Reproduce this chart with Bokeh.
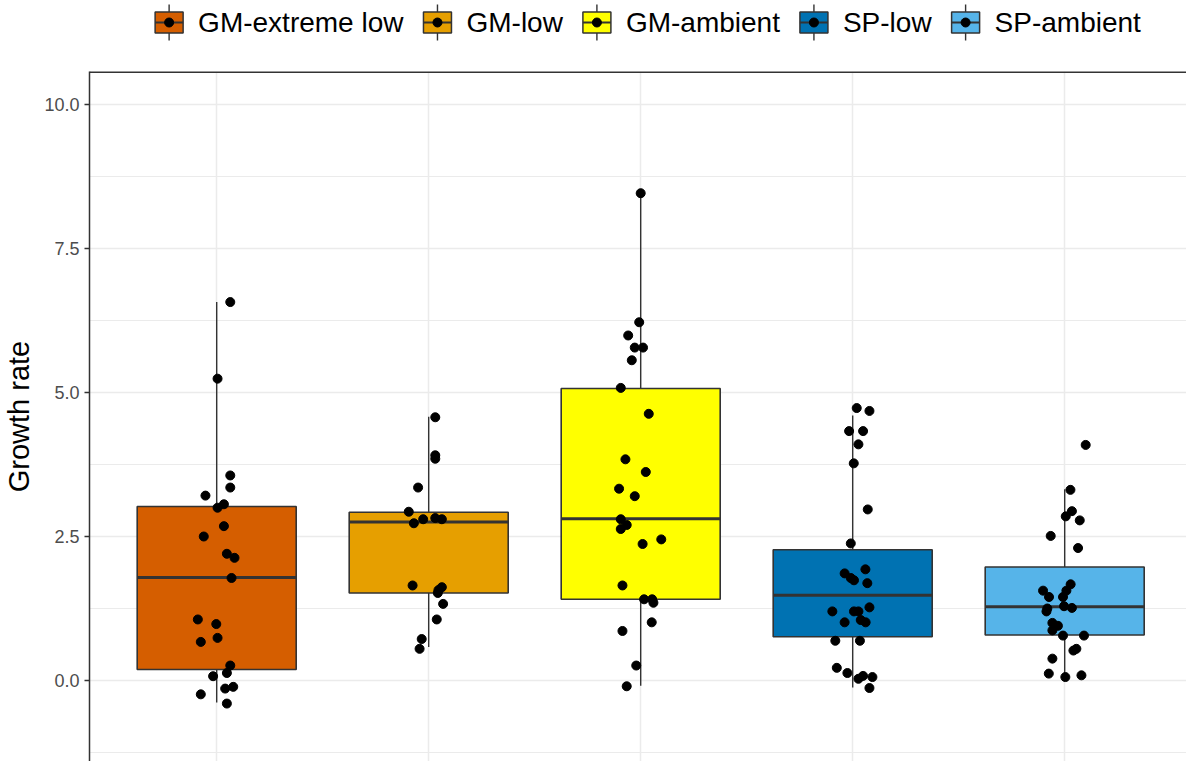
from bokeh.plotting import figure
from bokeh.layouts import column
from bokeh.models import (ColumnDataSource, FixedTicker, PrintfTickFormatter, Range1d, Span, Grid)
from bokeh.core.properties import value
from bokeh.embed import file_html
from bokeh.resources import INLINE

# ---------------- data ----------------
groups = ["GM-extreme low", "GM-low", "GM-ambient", "SP-low", "SP-ambient"]
colors = ["#D55E00", "#E69F00", "#FFFF00", "#0072B2", "#56B4E9"]

q1 = [0.19, 1.52, 1.41, 0.76, 0.79]
median = [1.79, 2.75, 2.81, 1.48, 1.28]
q3 = [3.02, 2.92, 5.07, 2.27, 1.97]
whisker_lo = [-0.38, 0.58, -0.09, -0.12, 0.06]
whisker_hi = [6.57, 4.58, 8.46, 4.60, 3.32]

gm_extreme_low = [6.57, 5.24, 3.56, 3.35, 3.21, 3.06, 3.00, 2.68, 2.50, 2.20, 2.13, 1.78,
                  1.06, 0.98, 0.67, 0.74, 0.26, 0.075, 0.13, -0.14, -0.11, -0.24, -0.40]
gm_extreme_low_jit = [0.064, 0.004, 0.064, 0.064, -0.053, 0.034, 0.004, 0.034, -0.061, 0.048, 0.084, 0.070,
                      -0.089, -0.002, -0.075, 0.004, 0.064, -0.017, 0.048, 0.040, 0.078, -0.075, 0.048]

gm_low = [4.57, 3.91, 3.85, 3.35, 2.93, 2.80, 2.73, 2.82, 2.80, 1.65, 1.62, 1.57, 1.52, 1.33,
          1.06, 0.72, 0.55]
gm_low_jit = [0.031, 0.031, 0.031, -0.050, -0.094, -0.026, -0.070, 0.031, 0.062, -0.076, 0.062,
              0.046, 0.043, 0.068, 0.038, -0.033, -0.043]

gm_ambient = [8.46, 6.22, 5.99, 5.78, 5.78, 5.56, 5.08, 4.63, 3.84, 3.62, 3.33, 3.20, 2.80, 2.70,
              2.63, 2.37, 2.45, 1.65, 1.41, 1.41, 1.35, 1.01, 0.86, 0.26, -0.10]
gm_ambient_jit = [0.0, -0.007, -0.059, -0.028, 0.011, -0.042, -0.094, 0.038, -0.072, 0.024, -0.102,
                  -0.028, -0.094, -0.066, -0.094, 0.009, 0.097, -0.086, 0.016, 0.054, 0.060, 0.052,
                  -0.086, -0.021, -0.066]

sp_low = [4.73, 4.68, 4.33, 4.33, 4.10, 3.77, 2.97, 2.38, 1.93, 1.86, 1.78, 1.74, 1.69, 1.27,
          1.20, 1.20, 1.20, 1.01, 1.05, 1.01, 0.69, 0.69, 0.22, 0.13, 0.03, 0.08, 0.06, -0.13]
sp_low_jit = [0.019, 0.079, -0.017, 0.049, 0.027, 0.005, 0.071, -0.009, 0.060, -0.038, -0.009,
              0.006, 0.069, 0.079, -0.096, 0.006, 0.027, -0.038, 0.038, 0.061, -0.082, 0.034,
              -0.075, -0.025, 0.027, 0.049, 0.093, 0.079]

sp_ambient = [4.09, 3.31, 2.94, 2.85, 2.78, 2.51, 2.30, 1.67, 1.56, 1.56, 1.45, 1.45, 1.25, 1.20,
              1.29, 1.26, 1.00, 0.95, 0.87, 0.78, 0.78, 0.55, 0.52, 0.38, 0.12, 0.06, 0.09]
sp_ambient_jit = [0.099, 0.027, 0.034, 0.005, 0.071, -0.066, 0.063, 0.028, 0.008, -0.102, -0.074,
                  -0.008, -0.082, -0.086, -0.003, 0.034, -0.058, -0.032, -0.058, -0.008, 0.091,
                  0.055, 0.041, -0.058, -0.075, 0.003, 0.079]

points = [gm_extreme_low, gm_low, gm_ambient, sp_low, sp_ambient]
jitters = [gm_extreme_low_jit, gm_low_jit, gm_ambient_jit, sp_low_jit, sp_ambient_jit]

y_ticks = [0.0, 2.5, 5.0, 7.5, 10.0]
y_minor = [-1.25, 1.25, 3.75, 6.25, 8.75]

# ---------------- styles ----------------
FONT = "Liberation Sans"
DARK = "#333333"
GRID = "#EBEBEB"
W = 1186
LEFT = 89
LEG_H = 71
MAIN_H = 690

# ---------------- main panel ----------------
y_lo, y_hi = -1.406, 10.573
x_lo = 0.4
x_hi = x_lo + (W - LEFT) / 212.0
p = figure(width=W, height=MAIN_H, output_backend="svg", toolbar_location=None,
           x_range=Range1d(x_lo, x_hi), y_range=Range1d(y_lo, y_hi),
           x_axis_location=None,
           min_border_left=LEFT, min_border_top=0, min_border_bottom=0, min_border_right=0)
p.outline_line_color = None
p.background_fill_color = "white"

p.xgrid.visible = False
p.add_layout(Grid(dimension=0, ticker=FixedTicker(ticks=[1, 2, 3, 4, 5]),
                  grid_line_color=GRID, grid_line_width=1.5))
p.yaxis.ticker = FixedTicker(ticks=y_ticks, minor_ticks=y_minor)
p.ygrid.grid_line_color = GRID
p.ygrid.grid_line_width = 1.5
p.ygrid.minor_grid_line_color = GRID
p.ygrid.minor_grid_line_width = 1.2

ax = p.yaxis[0]
ax.formatter = PrintfTickFormatter(format="%.1f")
ax.axis_label = "Growth rate"
ax.axis_label_text_font = FONT
ax.axis_label_text_font_size = "29px"
ax.axis_label_text_font_style = "normal"
ax.axis_label_text_color = "black"
ax.axis_label_standoff = 6
ax.major_label_text_font = FONT
ax.major_label_text_font_size = "18px"
ax.major_label_text_color = "#4D4D4D"
ax.major_label_standoff = 5
ax.axis_line_color = DARK
ax.axis_line_width = 1.5
ax.major_tick_line_color = DARK
ax.major_tick_line_width = 1.3
ax.major_tick_out = 5
ax.major_tick_in = 0
ax.minor_tick_line_color = None

p.add_layout(Span(location=y_hi, dimension="width", line_color=DARK, line_width=3))

xs = [1, 2, 3, 4, 5]
for i, g in enumerate(groups):
    src = ColumnDataSource(dict(x=[xs[i]], q1=[q1[i]], q3=[q3[i]], med=[median[i]],
                                lo=[whisker_lo[i]], hi=[whisker_hi[i]],
                                xl=[xs[i] - 0.375], xr=[xs[i] + 0.375]))
    p.segment(x0="x", y0="q3", x1="x", y1="hi", source=src, line_color=DARK, line_width=1.4)
    p.segment(x0="x", y0="lo", x1="x", y1="q1", source=src, line_color=DARK, line_width=1.4)
    p.vbar(x="x", width=0.75, bottom="q1", top="q3", source=src,
           fill_color=colors[i], line_color=DARK, line_width=1.6)
    p.segment(x0="xl", y0="med", x1="xr", y1="med", source=src, line_color=DARK, line_width=3)

for i, g in enumerate(groups):
    px = [xs[i] + j for j in jitters[i]]
    psrc = ColumnDataSource(dict(x=px, y=points[i]))
    p.scatter(x="x", y="y", source=psrc, size=9, fill_color="black", line_color="black")

# ---------------- legend strip (figure-pixel coordinates) ----------------
ARIAL_W = {"G": .778, "M": .833, "-": .333, "e": .556, "x": .5, "t": .278, "r": .333,
           "m": .833, " ": .278, "l": .222, "o": .556, "w": .722, "a": .556, "b": .556,
           "i": .222, "n": .556, "S": .667, "P": .667}
LABEL_PX = 28
KEY_W, KEY_H, STANDOFF, SPACING = 28, 21, 15, 20

def text_w(s):
    return sum(ARIAL_W.get(c, .556) for c in s) * LABEL_PX

lg = figure(width=W, height=LEG_H, output_backend="svg", toolbar_location=None,
            x_range=Range1d(LEFT, W), y_range=Range1d(0, LEG_H),
            x_axis_location=None, y_axis_location=None,
            min_border_left=LEFT, min_border_right=0, min_border_top=0, min_border_bottom=0)
lg.outline_line_color = None
lg.xgrid.visible = False
lg.ygrid.visible = False

total = sum(KEY_W + STANDOFF + text_w(g) for g in groups) + SPACING * (len(groups) - 1)
legend_center = 647.5
start = legend_center - total / 2
cy = LEG_H - 22
kx, tx = [], []
cur = start
for g in groups:
    kx.append(cur + KEY_W / 2)
    tx.append(cur + KEY_W + STANDOFF)
    cur += KEY_W + STANDOFF + text_w(g) + SPACING

ksrc = ColumnDataSource(dict(x=kx, y=[cy] * 5, color=colors, tx=tx, label=groups,
                             xl=[k - KEY_W / 2 for k in kx], xr=[k + KEY_W / 2 for k in kx],
                             wt=[cy + 18] * 5, wb=[cy - 18] * 5))
lg.segment(x0="x", y0="wb", x1="x", y1="wt", source=ksrc, line_color=DARK, line_width=1.4)
lg.rect(x="x", y="y", width=KEY_W, height=KEY_H, source=ksrc,
        fill_color="color", line_color=DARK, line_width=1.5)
lg.segment(x0="xl", y0="y", x1="xr", y1="y", source=ksrc, line_color=DARK, line_width=2)
lg.scatter(x="x", y="y", source=ksrc, size=9, fill_color="black", line_color="black")
lg.text(x="tx", y="y", text="label", source=ksrc, text_font=value(FONT),
        text_font_size=f"{LABEL_PX}px", text_color="black", text_baseline="middle",
        text_align="left")

layout = column(lg, p, spacing=0)
open("out.html", "w").write(file_html(layout, INLINE))
